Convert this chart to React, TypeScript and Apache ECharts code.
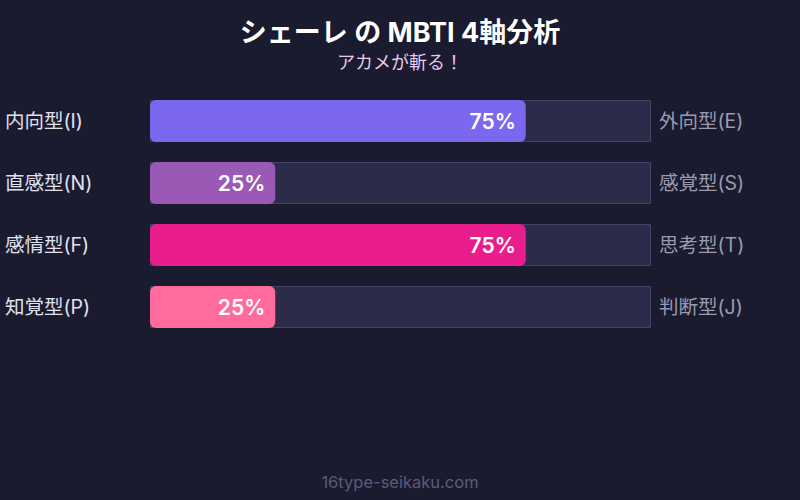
import { useEffect, useRef } from 'react'
import * as echarts from 'echarts'

const leftLabels = ['内向型(I)', '直感型(N)', '感情型(F)', '知覚型(P)']
const rightLabels = ['外向型(E)', '感覚型(S)', '思考型(T)', '判断型(J)']
const scores = [75, 25, 75, 25]
const barColors = ['#7b68ee', '#9b59b6', '#e91e8c', '#ff6b9d']
const trackValues = [100, 100, 100, 100]

const FONT = 'Inter, "Noto Sans CJK JP", sans-serif'

export default function App() {
  const chartRef = useRef<HTMLDivElement>(null)

  useEffect(() => {
    if (!chartRef.current) return
    const chart = echarts.init(chartRef.current, null, { renderer: 'svg' })

    chart.setOption({
      animation: false,
      backgroundColor: '#1a1b2e',
      textStyle: { fontFamily: FONT },
      title: {
        text: 'シェーレ の MBTI 4軸分析',
        subtext: 'アカメが斬る！',
        left: 'center',
        top: 14,
        itemGap: 8,
        textStyle: { color: '#ffffff', fontSize: 27, fontWeight: 'bold', fontFamily: FONT },
        subtextStyle: { color: '#e8c8f0', fontSize: 18, fontFamily: FONT }
      },
      grid: { left: 150, right: 149, top: 90, height: 248 },
      xAxis: {
        type: 'value',
        min: 0,
        max: 100,
        show: false
      },
      yAxis: [
        {
          type: 'category',
          data: leftLabels,
          inverse: true,
          axisLine: { show: false },
          axisTick: { show: false },
          axisLabel: {
            color: '#e0e0f0',
            fontSize: 19.5,
            align: 'left',
            margin: 145,
            padding: [0, 0, 3, 0],
            fontFamily: FONT
          }
        },
        {
          type: 'category',
          data: rightLabels,
          inverse: true,
          position: 'right',
          axisLine: { show: false },
          axisTick: { show: false },
          axisLabel: {
            color: '#9a9ab0',
            fontSize: 19.5,
            margin: 8,
            padding: [0, 0, 3, 0],
            fontFamily: FONT
          }
        }
      ],
      series: [
        {
          type: 'bar',
          data: trackValues,
          barWidth: 42,
          barGap: '-100%',
          silent: true,
          itemStyle: {
            color: '#2d2b4a',
            borderColor: '#45436a',
            borderWidth: 1
          }
        },
        {
          type: 'bar',
          data: scores.map((v, i) => ({ value: v, itemStyle: { color: barColors[i] } })),
          barWidth: 42,
          itemStyle: { borderRadius: 6 },
          label: {
            show: true,
            position: 'insideRight',
            distance: 10,
            formatter: '{c}%',
            color: '#ffffff',
            fontSize: 21,
            fontWeight: 600,
            fontFamily: FONT
          }
        }
      ],
      graphic: [
        {
          type: 'text',
          left: 'center',
          top: 474,
          style: {
            text: '16type-seikaku.com',
            fill: '#5c5c78',
            fontSize: 16.5,
            fontFamily: FONT
          }
        }
      ]
    })

    return () => {
      chart.dispose()
    }
  }, [])

  return (
    <div
      ref={chartRef}
      style={{ position: 'fixed', left: 0, top: 0, width: '800px', height: '500px' }}
    />
  )
}
